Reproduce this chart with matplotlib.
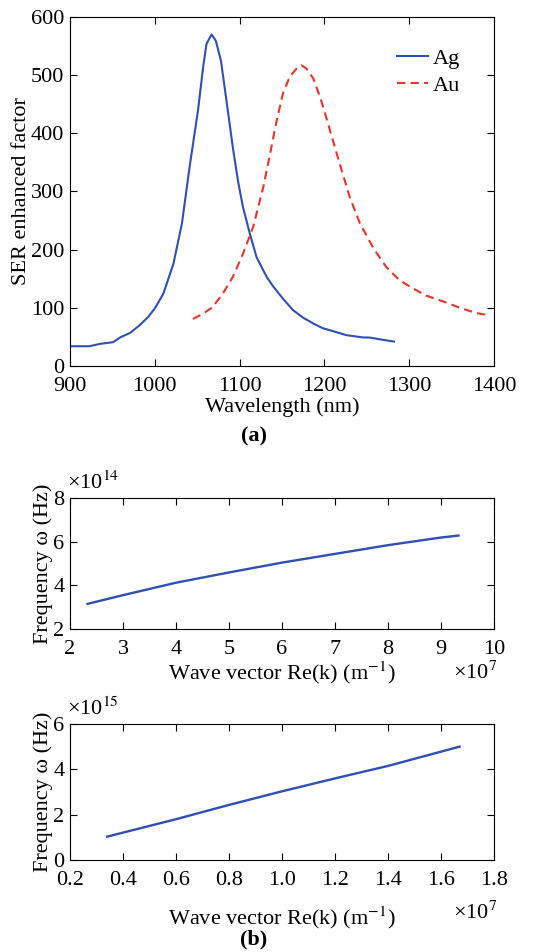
import matplotlib
matplotlib.use("Agg")
import matplotlib.pyplot as plt

plt.rcParams['font.family'] = ['Liberation Serif', 'DejaVu Serif']
plt.rcParams['mathtext.fontset'] = 'stix'

# ---- data (a) ----
ag_wl = [900, 923, 935, 951, 959, 971, 982, 992, 1000, 1010, 1022, 1032, 1041, 1051, 1057,
         1061, 1067, 1072, 1078, 1085, 1092, 1098, 1104, 1112, 1120, 1132, 1140, 1151, 1163,
         1175, 1187, 1198, 1210, 1226, 1246, 1253, 1269, 1282]
ag_ser = [34, 34, 38, 41, 49, 57, 70, 84, 99, 124, 176, 245, 342, 440, 514,
          554, 570, 559, 525, 451, 376, 319, 273, 228, 187, 153, 136, 116, 96,
          83, 73, 65, 60, 53, 49, 49, 45, 42]
au_wl = [1045, 1057, 1068, 1080, 1092, 1104, 1116, 1128, 1136, 1143, 1151, 1159, 1167, 1173,
         1179, 1187, 1195, 1202, 1210, 1218, 1230, 1242, 1258, 1273, 1289, 1305, 1320, 1340,
         1360, 1379, 1395]
au_ser = [81, 90, 101, 124, 153, 193, 239, 308, 365, 417, 468, 497, 511, 517,
          511, 494, 462, 428, 388, 348, 290, 245, 202, 170, 147, 133, 121, 111,
          100, 91, 87]

# ---- data (b) ----
k1 = [2.33, 3.0, 4.0, 5.0, 6.0, 7.0, 8.0, 9.0, 9.33]          # x 1e7 m^-1
w1 = [3.15, 3.55, 4.12, 4.59, 5.04, 5.44, 5.84, 6.19, 6.28]  # x 1e14 Hz
k2 = [0.34, 0.6, 0.8, 1.0, 1.2, 1.4, 1.67]                   # x 1e7 m^-1
w2 = [1.03, 1.8, 2.43, 3.03, 3.6, 4.15, 5.0]                 # x 1e15 Hz

blue = '#2f4fb5'
red = '#e8352a'
FS = 16

W, H = 541, 952
fig = plt.figure(figsize=(W / 100, H / 100), dpi=100)

def ax_at(l, t, r, b):
    return fig.add_axes([l / W, 1 - b / H, (r - l) / W, (b - t) / H])

def style(ax):
    ax.tick_params(direction='in', top=True, right=True, labelsize=FS, length=5, width=0.8)
    ax.tick_params(axis='x', pad=8)
    ax.tick_params(axis='y', pad=4)
    for s in ax.spines.values():
        s.set_linewidth(0.8)

ax1 = ax_at(70, 17, 494, 366)
ax1.plot(ag_wl, ag_ser, color=blue, lw=1.5, label='Ag')
ax1.plot(au_wl, au_ser, color=red, lw=1.5, ls=(0, (4, 2.5)), label='Au')
ax1.set_xlim(900, 1400)
ax1.set_ylim(0, 600)
ax1.set_xticks(range(900, 1401, 100))
ax1.set_yticks(range(0, 601, 100))
ax1.set_xlabel('Wavelength (nm)', fontsize=FS, labelpad=1)
ax1.set_ylabel('SER enhanced factor', fontsize=FS, labelpad=0)
style(ax1)
ax1.legend(loc='upper right', bbox_to_anchor=(0.967, 0.968), frameon=False, fontsize=FS,
           handlelength=1.4, handletextpad=0.2, borderaxespad=0.5, labelspacing=0.3)
fig.text(254 / W, 1 - 436 / H, '(a)', fontsize=FS, fontweight='bold', ha='center', va='center')

ax2 = ax_at(70, 498, 494, 629)
ax2.plot(k1, w1, color=blue, lw=1.7)
ax2.set_xlim(2, 10)
ax2.set_ylim(2, 8)
ax2.set_xticks(range(2, 11))
ax2.set_yticks([2, 4, 6, 8])
ax2.set_xlabel('Wave vector Re(k) (m$^{-1}$)', fontsize=FS, labelpad=0)
ax2.set_ylabel('Frequency ω (Hz)', fontsize=FS, labelpad=0)
style(ax2)
fig.text(67 / W, 1 - 483 / H, '×10$^{14}$', fontsize=FS, ha='left', va='center')
fig.text(497 / W, 1 - 673 / H, '×10$^{7}$', fontsize=FS, ha='right', va='center')

ax3 = ax_at(70, 724, 494, 860)
ax3.plot(k2, w2, color=blue, lw=1.7)
ax3.set_xlim(0.2, 1.8)
ax3.set_ylim(0, 6)
ax3.set_xticks([0.2, 0.4, 0.6, 0.8, 1.0, 1.2, 1.4, 1.6, 1.8])
ax3.set_xticklabels(['0.2', '0.4', '0.6', '0.8', '1.0', '1.2', '1.4', '1.6', '1.8'])
ax3.set_yticks([0, 2, 4, 6])
ax3.set_xlabel('Wave vector Re(k) (m$^{-1}$)', fontsize=FS, labelpad=10)
ax3.set_ylabel('Frequency ω (Hz)', fontsize=FS, labelpad=0)
style(ax3)
fig.text(67 / W, 1 - 709 / H, '×10$^{15}$', fontsize=FS, ha='left', va='center')
fig.text(497 / W, 1 - 913 / H, '×10$^{7}$', fontsize=FS, ha='right', va='center')
fig.text(254 / W, 1 - 939 / H, '(b)', fontsize=FS, fontweight='bold', ha='center', va='center')

fig.savefig('out.png', dpi=100)
